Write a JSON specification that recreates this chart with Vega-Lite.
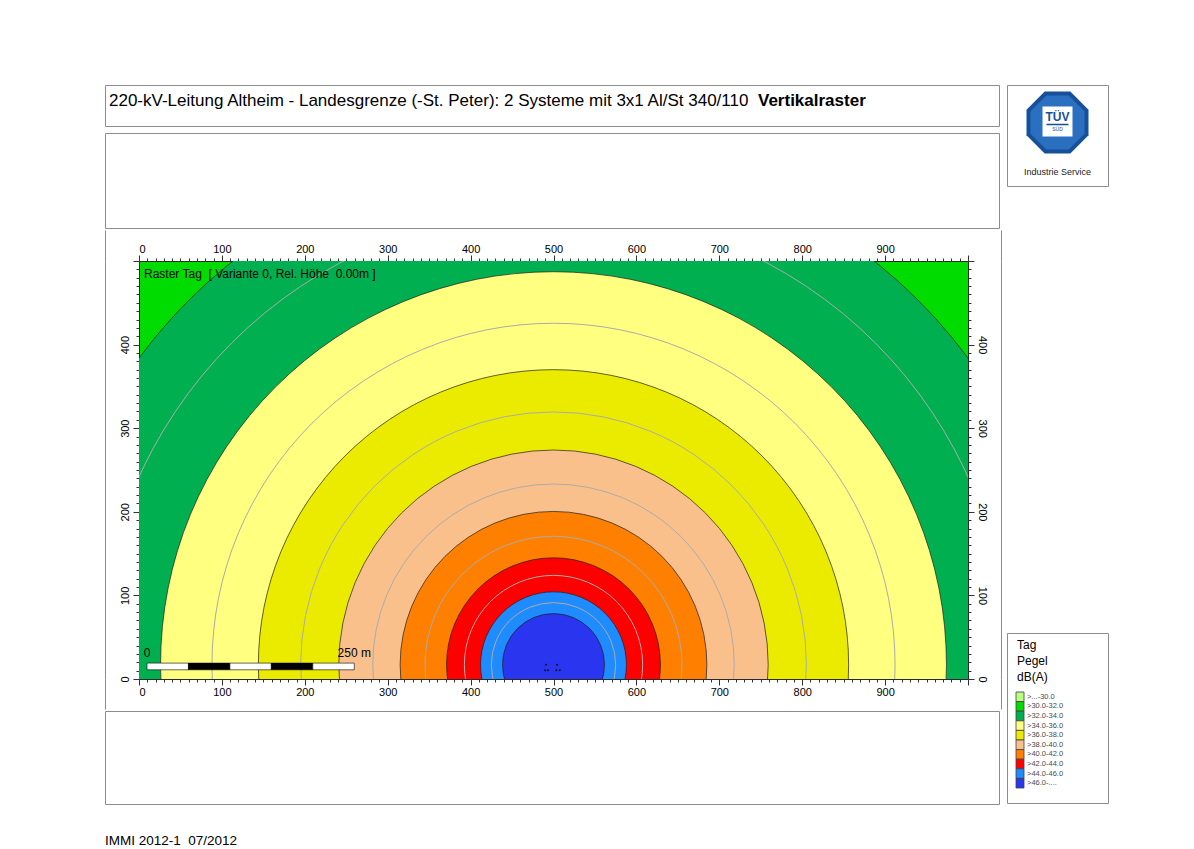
{
  "$schema": "https://vega.github.io/schema/vega-lite/v6.json",
  "padding": {"left": 104, "top": 84, "right": 0, "bottom": 0},
  "background": "white",
  "config": {
    "font": "Liberation Sans",
    "view": {"stroke": "#8c8c8c", "strokeWidth": 1}
  },
  "datasets": {
    "contours": [
      {"level": ">32.0-34.0", "x": 500, "y": 17, "r": 622},
      {"level": ">34.0-36.0", "x": 500, "y": 17, "r": 474},
      {"level": ">36.0-38.0", "x": 500, "y": 17, "r": 356},
      {"level": ">38.0-40.0", "x": 500, "y": 17, "r": 259},
      {"level": ">40.0-42.0", "x": 500, "y": 17, "r": 185},
      {"level": ">42.0-44.0", "x": 500, "y": 17, "r": 129},
      {"level": ">44.0-46.0", "x": 500, "y": 17, "r": 88},
      {"level": ">46.0-....", "x": 500, "y": 17, "r": 61.5}
    ],
    "isolines": [
      {"dB": 33, "x": 500, "y": 17, "r": 549},
      {"dB": 35, "x": 500, "y": 17, "r": 412},
      {"dB": 37, "x": 500, "y": 17, "r": 305},
      {"dB": 39, "x": 500, "y": 17, "r": 218},
      {"dB": 41, "x": 500, "y": 17, "r": 155},
      {"dB": 43, "x": 500, "y": 17, "r": 107.5},
      {"dB": 45, "x": 500, "y": 17, "r": 75}
    ],
    "conductors": [
      {"x": 491, "y": 17}, {"x": 489.8, "y": 10.4}, {"x": 493.4, "y": 10.4},
      {"x": 504.3, "y": 17}, {"x": 503.5, "y": 10.4}, {"x": 507.6, "y": 10.4}
    ],
    "scalebar": [
      {"seg": 1, "from": 0, "to": 50},
      {"seg": 2, "from": 50, "to": 100},
      {"seg": 3, "from": 100, "to": 150},
      {"seg": 4, "from": 150, "to": 200},
      {"seg": 5, "from": 200, "to": 250}
    ],
    "scalelabels": [
      {"pos": 0, "t": "0"},
      {"pos": 250, "t": "250 m"}
    ],
    "bands": [
      {"Pegel": ">...-30.0"}, {"Pegel": ">30.0-32.0"}, {"Pegel": ">32.0-34.0"},
      {"Pegel": ">34.0-36.0"}, {"Pegel": ">36.0-38.0"}, {"Pegel": ">38.0-40.0"},
      {"Pegel": ">40.0-42.0"}, {"Pegel": ">42.0-44.0"}, {"Pegel": ">44.0-46.0"},
      {"Pegel": ">46.0-...."}
    ]
  },
  "spacing": 4,
  "resolve": {"scale": {"color": "independent", "fill": "independent", "size": "independent", "x": "independent", "y": "independent"}, "legend": {"color": "independent"}},
  "hconcat": [
    {
      "spacing": 5,
      "vconcat": [
        {
          "width": 894, "height": 41,
          "view": {"stroke": "#8c8c8c"},
          "data": {"values": [{"plain": "220-kV-Leitung Altheim - Landesgrenze (-St. Peter): 2 Systeme mit 3x1 Al/St 340/110", "bold": "Vertikalraster"}]},
          "layer": [
            {"mark": {"type": "text", "x": 4, "y": 21, "align": "left", "baseline": "alphabetic", "fontSize": 17, "color": "black"}, "encoding": {"text": {"field": "plain"}}},
            {"mark": {"type": "text", "x": 653, "y": 21, "align": "left", "baseline": "alphabetic", "fontSize": 17, "fontWeight": "bold", "color": "black"}, "encoding": {"text": {"field": "bold"}}}
          ]
        },
        {
          "spacing": 0,
          "vconcat": [
            {"width": 894, "height": 95, "view": {"stroke": "#8c8c8c"}, "data": {"values": [{"t": ""}]}, "mark": {"type": "text"}, "encoding": {"text": {"field": "t"}}},
            {
              "spacing": 0,
              "hconcat": [
                {
                  "width": 1, "height": 418,
                  "view": {"stroke": null},
                  "data": {"values": [{"v": 0}]},
                  "resolve": {"axis": {"x": "independent", "y": "independent"}},
                  "layer": [
                    {"mark": {"type": "text", "text": ""},
                      "encoding": {
                        "x": {"field": "v", "type": "quantitative", "scale": {"domain": [0, 1]}, "axis": {"orient": "top", "values": [0], "tickSize": 31, "tickColor": "#8c8c8c", "labels": false, "domain": false, "grid": false, "title": null}},
                        "y": {"field": "v", "type": "quantitative", "scale": {"domain": [0, 1]}, "axis": {"orient": "left", "domain": true, "domainColor": "#8c8c8c", "ticks": false, "labels": false, "grid": false, "title": null}}}},
                    {"mark": {"type": "text", "text": ""},
                      "encoding": {
                        "x": {"field": "v", "type": "quantitative", "scale": {"domain": [0, 1]}, "axis": {"orient": "bottom", "values": [0], "tickSize": 30, "tickColor": "#8c8c8c", "labels": false, "domain": false, "grid": false, "title": null}},
                        "y": {"field": "v", "type": "quantitative", "scale": {"domain": [0, 1]}, "axis": null}}}
                  ]
                },
                {
                  "width": 829, "height": 418,
                  "view": {"stroke": "#2a2a2a", "fill": "#00dc00"},
                  "resolve": {"axis": {"x": "independent", "y": "independent"}},
                  "layer": [
                    {
                      "data": {"name": "contours"},
                      "mark": {"type": "point", "shape": "circle", "filled": true, "opacity": 1, "stroke": "#1e1e1e", "strokeWidth": 0.7, "clip": true},
                      "encoding": {
                        "x": {"field": "x", "type": "quantitative", "scale": {"domain": [0, 1000], "nice": false, "zero": false},
                          "axis": {"orient": "top", "tickCount": 100, "labelExpr": "datum.value % 100 === 0 && datum.value < 1000 ? datum.label : ''",
                            "tickSize": {"condition": {"test": "datum.value % 100 === 0", "value": 6}, "value": 3},
                            "labelOverlap": false, "labelFontSize": 11, "labelColor": "black", "labelPadding": 1, "tickColor": "#333",
                            "domain": false, "grid": false, "title": null, "minExtent": 31}},
                        "y": {"field": "y", "type": "quantitative", "scale": {"domain": [0, 500], "nice": false, "zero": false},
                          "axis": {"orient": "left", "tickCount": 50, "labelExpr": "datum.value % 100 === 0 && datum.value < 500 ? datum.label : ''",
                            "tickSize": {"condition": {"test": "datum.value % 100 === 0", "value": 6}, "value": 3},
                            "labelAngle": -90, "labelAlign": "center", "labelBaseline": "bottom",
                            "labelOverlap": false, "labelFontSize": 11, "labelColor": "black", "labelPadding": 3, "tickColor": "#333",
                            "domain": false, "grid": false, "title": null, "minExtent": 32}},
                        "size": {"field": "r", "type": "quantitative", "scale": {"type": "pow", "exponent": 2, "domain": [0, 1000], "range": [0, 2748964]}, "legend": null},
                        "color": {"field": "level", "type": "nominal",
                          "scale": {"domain": [">...-30.0", ">30.0-32.0", ">32.0-34.0", ">34.0-36.0", ">36.0-38.0", ">38.0-40.0", ">40.0-42.0", ">42.0-44.0", ">44.0-46.0", ">46.0-...."],
                            "range": ["#b8ff80", "#00dc00", "#00b050", "#ffff80", "#ebeb00", "#fac08c", "#ff8000", "#ff0000", "#1e8cff", "#2a35f0"]},
                          "legend": null}
                      }
                    },
                    {
                      "data": {"name": "isolines"},
                      "mark": {"type": "point", "shape": "circle", "filled": false, "opacity": 1, "stroke": "#ababab", "strokeWidth": 1, "clip": true},
                      "encoding": {
                        "x": {"field": "x", "type": "quantitative", "scale": {"domain": [0, 1000], "nice": false, "zero": false},
                          "axis": {"orient": "bottom", "tickCount": 100, "labelExpr": "datum.value % 100 === 0 && datum.value < 1000 ? datum.label : ''",
                            "tickSize": {"condition": {"test": "datum.value % 100 === 0", "value": 6}, "value": 3},
                            "labelOverlap": false, "labelFontSize": 11, "labelColor": "black", "labelPadding": 1, "tickColor": "#333",
                            "domain": false, "grid": false, "title": null, "minExtent": 30}},
                        "y": {"field": "y", "type": "quantitative", "scale": {"domain": [0, 500], "nice": false, "zero": false},
                          "axis": {"orient": "right", "tickCount": 50, "labelExpr": "datum.value % 100 === 0 && datum.value < 500 ? datum.label : ''",
                            "tickSize": {"condition": {"test": "datum.value % 100 === 0", "value": 6}, "value": 3},
                            "labelAngle": 90, "labelAlign": "center", "labelBaseline": "bottom",
                            "labelOverlap": false, "labelFontSize": 11, "labelColor": "black", "labelPadding": 2, "tickColor": "#333",
                            "domain": false, "grid": false, "title": null, "minExtent": 31}},
                        "size": {"field": "r", "type": "quantitative", "scale": {"type": "pow", "exponent": 2, "domain": [0, 1000], "range": [0, 2748964]}, "legend": null}
                      }
                    },
                    {
                      "data": {"name": "conductors"},
                      "mark": {"type": "point", "shape": "circle", "filled": true, "opacity": 1, "color": "#111", "size": 4},
                      "encoding": {
                        "x": {"field": "x", "type": "quantitative", "axis": null},
                        "y": {"field": "y", "type": "quantitative", "axis": null}
                      }
                    },
                    {
                      "data": {"name": "scalebar"},
                      "mark": {"type": "rect", "stroke": "black", "strokeWidth": 0.6, "xOffset": 8, "x2Offset": 8},
                      "encoding": {
                        "x": {"field": "from", "type": "quantitative", "axis": null},
                        "x2": {"field": "to"},
                        "y": {"datum": 11, "type": "quantitative", "axis": null},
                        "y2": {"datum": 19},
                        "fill": {"field": "seg", "type": "ordinal", "scale": {"domain": [1, 2, 3, 4, 5], "range": ["white", "black", "white", "black", "white"]}, "legend": null}
                      }
                    },
                    {
                      "data": {"name": "scalelabels"},
                      "mark": {"type": "text", "xOffset": 8, "dy": -3, "baseline": "bottom", "align": "center", "fontSize": 12, "color": "black"},
                      "encoding": {
                        "x": {"field": "pos", "type": "quantitative", "axis": null},
                        "y": {"datum": 19, "type": "quantitative", "axis": null},
                        "text": {"field": "t"}
                      }
                    },
                    {
                      "data": {"values": [{"label": "Raster Tag \u00a0[ Variante 0, Rel. Höhe \u00a00.00m ]"}]},
                      "mark": {"type": "text", "dx": 5, "dy": 17, "align": "left", "baseline": "alphabetic", "fontSize": 12, "color": "black"},
                      "encoding": {
                        "x": {"datum": 0, "type": "quantitative", "axis": null},
                        "y": {"datum": 500, "type": "quantitative", "axis": null},
                        "text": {"field": "label"}
                      }
                    }
                  ]
                },
                {
                  "width": 1, "height": 418,
                  "view": {"stroke": null},
                  "data": {"values": [{"v": 0}]},
                  "resolve": {"axis": {"x": "independent", "y": "independent"}},
                  "layer": [
                    {"mark": {"type": "text", "text": ""},
                      "encoding": {
                        "x": {"field": "v", "type": "quantitative", "scale": {"domain": [0, 1]}, "axis": {"orient": "top", "values": [0], "tickSize": 31, "tickColor": "#8c8c8c", "labels": false, "domain": false, "grid": false, "title": null}},
                        "y": {"field": "v", "type": "quantitative", "scale": {"domain": [0, 1]}, "axis": {"orient": "left", "domain": true, "domainColor": "#8c8c8c", "ticks": false, "labels": false, "grid": false, "title": null}}}},
                    {"mark": {"type": "text", "text": ""},
                      "encoding": {
                        "x": {"field": "v", "type": "quantitative", "scale": {"domain": [0, 1]}, "axis": {"orient": "bottom", "values": [0], "tickSize": 30, "tickColor": "#8c8c8c", "labels": false, "domain": false, "grid": false, "title": null}},
                        "y": {"field": "v", "type": "quantitative", "scale": {"domain": [0, 1]}, "axis": null}}}
                  ]
                }
              ]
            },
            {"width": 894, "height": 93, "view": {"stroke": "#8c8c8c"}, "data": {"values": [{"t": ""}]}, "mark": {"type": "text"}, "encoding": {"text": {"field": "t"}}}
          ]
        },
        {
          "width": 894, "height": 39,
          "view": {"stroke": null},
          "data": {"values": [{"t": "IMMI 2012-1 \u00a007/2012"}]},
          "mark": {"type": "text", "x": 0, "y": 35, "align": "left", "baseline": "alphabetic", "fontSize": 13.5, "color": "black"},
          "encoding": {"text": {"field": "t"}}
        }
      ]
    },
    {
      "spacing": 445,
      "resolve": {"scale": {"color": "independent", "y": "independent"}, "legend": {"color": "independent"}},
      "vconcat": [
        {
          "width": 101, "height": 101,
          "view": {"stroke": "#8c8c8c"},
          "data": {"values": [{"t1": "TÜV", "t2": "SÜD", "t3": "Industrie Service"}]},
          "layer": [
            {"mark": {"type": "point", "shape": "M-0.414,-1L0.414,-1L1,-0.414L1,0.414L0.414,1L-0.414,1L-1,0.414L-1,-0.414Z", "size": 3844, "filled": true, "fill": "#17509a", "opacity": 1, "strokeWidth": 0, "yOffset": -13}, "encoding": {}},
            {"mark": {"type": "point", "shape": "M-0.414,-1L0.414,-1L1,-0.414L1,0.414L0.414,1L-0.414,1L-1,0.414L-1,-0.414Z", "size": 2916, "filled": true, "fill": "#2a6fc0", "opacity": 1, "strokeWidth": 0, "yOffset": -13}, "encoding": {}},
            {"mark": {"type": "square", "size": 900, "filled": true, "fill": "white", "opacity": 1, "strokeWidth": 0, "yOffset": -14}, "encoding": {}},
            {"mark": {"type": "text", "fontSize": 12, "fontWeight": "bold", "fill": "#17509a", "yOffset": -19, "baseline": "middle"}, "encoding": {"text": {"field": "t1"}}},
            {"mark": {"type": "point", "shape": "M-1,-0.07L1,-0.07L1,0.07L-1,0.07Z", "size": 484, "filled": true, "fill": "#17509a", "opacity": 1, "strokeWidth": 0, "yOffset": -11}, "encoding": {}},
            {"mark": {"type": "text", "fontSize": 5, "fill": "#17509a", "yOffset": -6.5, "baseline": "middle"}, "encoding": {"text": {"field": "t2"}}},
            {"mark": {"type": "text", "fontSize": 9, "fill": "#222", "yOffset": 36, "baseline": "middle"}, "encoding": {"text": {"field": "t3"}}}
          ]
        },
        {
          "width": 101, "height": 170,
          "view": {"stroke": "#8c8c8c"},
          "data": {"name": "bands"},
          "layer": [
            {
              "data": {"values": [{"title": ["Tag", "Pegel", "dB(A)"]}]},
              "mark": {"type": "text", "x": 10, "y": 7, "align": "left", "baseline": "top", "fontSize": 12, "lineHeight": 16, "color": "black"},
              "encoding": {"text": {"field": "title"}}
            },
            {
              "mark": {"type": "rect", "x": 9, "x2": 17, "stroke": "#404040", "strokeWidth": 0.8},
              "encoding": {
                "y": {"field": "Pegel", "type": "ordinal", "sort": null,
                  "scale": {"type": "band", "domain": [">...-30.0", ">30.0-32.0", ">32.0-34.0", ">34.0-36.0", ">36.0-38.0", ">38.0-40.0", ">40.0-42.0", ">42.0-44.0", ">44.0-46.0", ">46.0-...."], "range": [59, 155], "paddingInner": 0, "paddingOuter": 0},
                  "axis": null},
                "color": {"field": "Pegel", "type": "nominal",
                  "scale": {"domain": [">...-30.0", ">30.0-32.0", ">32.0-34.0", ">34.0-36.0", ">36.0-38.0", ">38.0-40.0", ">40.0-42.0", ">42.0-44.0", ">44.0-46.0", ">46.0-...."],
                    "range": ["#b8ff80", "#00dc00", "#00b050", "#ffff80", "#ebeb00", "#fac08c", "#ff8000", "#ff0000", "#1e8cff", "#2a35f0"]},
                  "legend": null}
              }
            },
            {
              "mark": {"type": "text", "x": 20, "align": "left", "baseline": "middle", "fontSize": 7.5, "color": "#4a4a4a"},
              "encoding": {
                "y": {"field": "Pegel", "type": "ordinal", "sort": null,
                  "scale": {"type": "band", "domain": [">...-30.0", ">30.0-32.0", ">32.0-34.0", ">34.0-36.0", ">36.0-38.0", ">38.0-40.0", ">40.0-42.0", ">42.0-44.0", ">44.0-46.0", ">46.0-...."], "range": [59, 155], "paddingInner": 0, "paddingOuter": 0},
                  "axis": null},
                "text": {"field": "Pegel"}
              }
            }
          ]
        }
      ]
    }
  ]
}
